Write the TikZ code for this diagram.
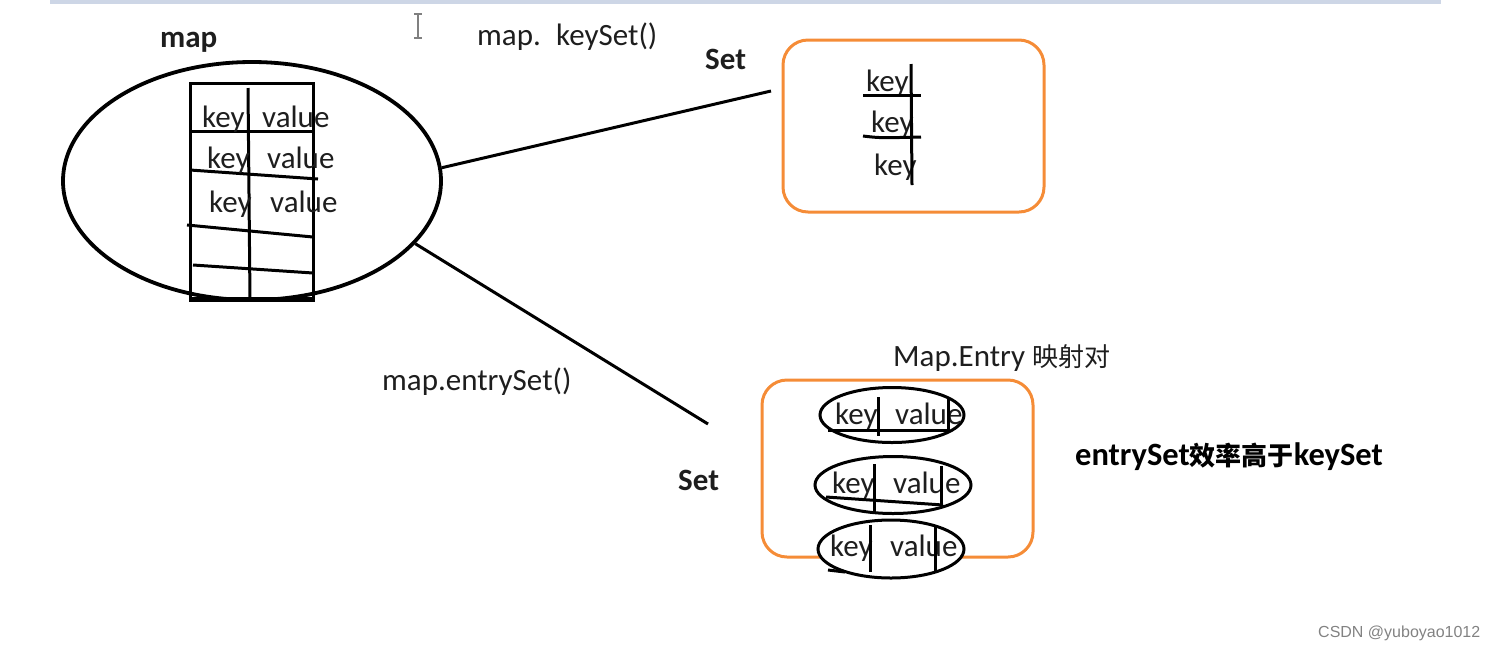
\documentclass[tikz,border=0pt]{standalone}
\usepackage{fontspec}
\setmainfont{Carlito}
\newfontfamily\cjk{Noto Sans CJK SC}
\newfontfamily\wmfont{Liberation Sans}
\usetikzlibrary{shapes.geometric}
\definecolor{boxorange}{RGB}{245,140,55}
\definecolor{inktext}{RGB}{30,30,30}
\definecolor{barblue}{RGB}{205,214,230}
\tikzset{
  lbl/.style={inner sep=0pt, anchor=base west, text=inktext, font=\fontsize{31}{33}\selectfont},
  boldlbl/.style={lbl, font=\fontsize{31}{33}\selectfont\bfseries},
  ink/.style={draw=black, line width=3pt},
  setbox/.style={draw=boxorange, line width=3pt, rounded corners=25pt, rectangle},
  entryell/.style={draw=black, line width=3pt, ellipse, fill=white, inner sep=0pt},
}
\begin{document}
\begin{tikzpicture}[x=1pt,y=-1pt]
\useasboundingbox (0,0) rectangle (1494,649);
% top bar
\fill[barblue] (50,0) rectangle (1441,4);
% cursor
\draw[gray, line width=1.2pt] (418,14) -- (418,38) (414,14) -- (422,14) (414,38) -- (422,38);
% map ellipse
\node[draw=black, line width=3.8pt, ellipse, minimum width=378pt, minimum height=238pt, inner sep=0pt] (mapell) at (252,181) {};
% table
\draw[ink] (190,83) rectangle (313,300);
\draw[ink] (248,88) -- (250,300);
\draw[ink] (190,131) -- (313,131);
\draw[ink] (190,170) -- (318,179);
\draw[ink] (187,225) -- (313,237);
\draw[ink] (193,265) -- (313,273);
\draw[black, line width=5pt] (190,299) -- (313,299);
\node[lbl] (k1) at (202,127) {key};
\node[lbl] (v1) at (262,127) {value};
\node[lbl] (k2) at (207,168) {key};
\node[lbl] (v2) at (267,168) {value};
\node[lbl] (k3) at (209,212) {key};
\node[lbl] (v3) at (270,212) {value};
\node[boldlbl] (maplbl) at (160,47) {map};
% labels top
\node[lbl] (mapdot) at (477,45) {map.};
\node[lbl] (keyset) at (556,45) {keySet()};
\node[boldlbl] (setlbl1) at (705,69) {Set};
% keyset box
\node[setbox, minimum width=261pt, minimum height=172pt] (kset) at (913.5,126) {};
\node[lbl] (sk1) at (866,91) {key};
\node[lbl] (sk2) at (871,132) {key};
\node[lbl] (sk3) at (874,175) {key};
\draw[ink] (911,64) -- (912,185);
\draw[ink] (863,95) -- (921,95);
\draw[ink] (863,136) .. controls (880,138) .. (921,137);
% connectors
\coordinate (kend) at (771,91);
\coordinate (eend) at (708,424);
\draw[ink] (mapell.4) -- (kend);
\draw[ink] (mapell.-21) -- (eend);
\node[lbl] (entrylbl) at (382,390) {map.entrySet()};
\node[boldlbl] (setlbl2) at (678,490) {Set};
% entry box
\node[lbl] (mentry) at (893,366) {Map.Entry {\cjk\fontsize{26}{28}\selectfont 映射对}};
\node[setbox, minimum width=271pt, minimum height=177pt] (eset) at (897.5,468.5) {};
\node[entryell, minimum width=144pt, minimum height=55pt] (e1) at (892,415) {};
\node[entryell, minimum width=156pt, minimum height=57pt] (e2) at (893,485) {};
\node[entryell, minimum width=146pt, minimum height=58pt] (e3) at (891,549) {};
\node[lbl] (ek1) at (835,424) {key};
\node[lbl] (ev1) at (895,424) {value};
\node[lbl] (ek2) at (832,493) {key};
\node[lbl] (ev2) at (893,493) {value};
\node[lbl] (ek3) at (830,556) {key};
\node[lbl] (ev3) at (890,556) {value};
\draw[ink] (878,397) -- (878,436);
\draw[ink] (948,398) -- (948,430);
\draw[ink] (828,430) -- (950,430);
\draw[ink] (874,464) -- (874,512);
\draw[ink] (941,466) -- (941,505);
\draw[ink] (826,497) -- (943,505);
\draw[ink] (870,525) -- (870,572);
\draw[ink] (935,527) -- (935,572);
\draw[ink] (828,570) -- (845,572);
% efficiency note
\node[inner sep=0pt, anchor=base west, text=black] (note) at (1075,465) {\fontsize{32.5}{34}\selectfont\bfseries entrySet{\cjk\fontsize{26}{28}\selectfont\bfseries 效率高于}keySet};
% watermark
\node[inner sep=0pt, anchor=base west, text={rgb,255:red,130;green,130;blue,130}] (wm) at (1318,637) {\wmfont\fontsize{16}{18}\selectfont CSDN @yuboyao1012};
\end{tikzpicture}
\end{document}
